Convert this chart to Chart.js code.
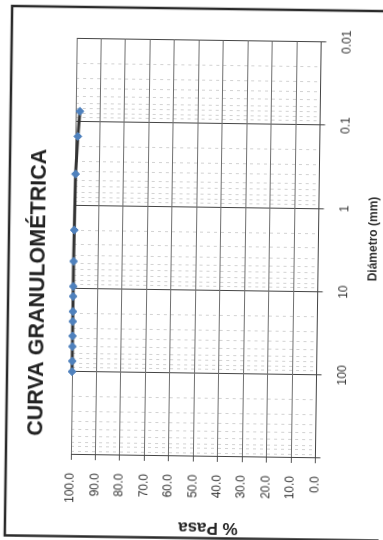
<!DOCTYPE html>
<html>
<head>
<meta charset="utf-8">
<script src="https://cdn.jsdelivr.net/npm/chart.js@4/dist/chart.umd.min.js"></script>
<style>
  html, body { margin: 0; padding: 0; background: #fff; overflow: hidden; }
  body { width: 383px; height: 540px; position: relative; }
  #wrap {
    position: absolute;
    left: -79px;
    top: 78px;
    width: 540px;
    height: 383px;
    transform: rotate(-89.2deg);
    transform-origin: 50% 50%;
  }
</style>
</head>
<body>
<div id="wrap"><canvas id="curva" width="540" height="383"></canvas></div>
<script>
// Sieve diameters (mm) and % passing
const diametros = [100, 75, 50, 37.5, 25, 19, 12.5, 9.5, 4.75, 2.0, 0.425, 0.15, 0.075];
const pasa = [100, 100, 100, 100, 100, 100, 100, 100, 100, 99.9, 99.7, 99.0, 98.3];

// Axis tick labels
const etiquetasDiametro = [0.01, 0.1, 1, 10, 100];
const etiquetasPasa = [0, 10, 20, 30, 40, 50, 60, 70, 80, 90, 100];

const FONT = "'Liberation Sans', Arial, sans-serif";

// decades 0.01 .. 1000 with minor steps
function logTicks() {
  const out = [];
  for (let e = -2; e <= 2; e++) {
    for (let m = 1; m <= 9; m++) out.push({ value: +(m * Math.pow(10, e)).toPrecision(3) });
  }
  out.push({ value: 1000 });
  return out;
}
function esMayor(v) {
  return Math.abs(Math.log10(v) - Math.round(Math.log10(v))) < 1e-6;
}

// frame around the sheet, title and axis titles (placed like the scan)
const marco = {
  id: "marco",
  beforeDraw(chart) {
    const ctx = chart.ctx;
    ctx.save();
    ctx.strokeStyle = "#2a2a2a";
    ctx.lineWidth = 2.5;
    ctx.strokeRect(1.5, 9, 529.5, 400);
    ctx.restore();
  },
  afterDraw(chart) {
    const ctx = chart.ctx;
    ctx.save();
    ctx.fillStyle = "#222";
    ctx.textAlign = "center";
    ctx.textBaseline = "middle";
    ctx.font = "bold 21.5px " + FONT;
    ctx.fillText("CURVA GRANULOMÉTRICA", 245, 39);
    ctx.font = "bold 12px " + FONT;
    ctx.fillStyle = "#333";
    ctx.fillText("Diámetro (mm)", 303, 374);
    ctx.font = "bold 17px " + FONT;
    ctx.fillStyle = "#222";
    ctx.translate(12, 212);
    ctx.rotate(-Math.PI / 2);
    ctx.fillText("% Pasa", 0, 0);
    ctx.restore();
  },
};

new Chart(document.getElementById("curva"), {
  type: "line",
  data: {
    datasets: [
      {
        label: "% Pasa",
        data: diametros.map((d, i) => ({ x: d, y: pasa[i] })),
        borderColor: "#333",
        borderWidth: 3,
        pointStyle: "rectRot",
        pointRadius: 4,
        pointBackgroundColor: "#4F81BD",
        pointBorderColor: "#4F81BD",
        pointBorderWidth: 1,
        tension: 0,
        clip: false,
      },
    ],
  },
  plugins: [marco],
  options: {
    responsive: false,
    animation: false,
    layout: { padding: { top: 74, right: 40.5, left: 0, bottom: 0 } },
    plugins: { legend: { display: false }, tooltip: { enabled: false } },
    scales: {
      x: {
        type: "logarithmic",
        reverse: true,
        min: 0.01,
        max: 1000,
        afterBuildTicks: (s) => { s.ticks = logTicks(); },
        afterFit: (s) => { s.height = 64.5; },
        grid: {
          color: (c) => (c.tick && esMayor(c.tick.value) ? "#444" : "#d2d2d2"),
          lineWidth: 1,
          tickLength: 5,
          tickColor: (c) => (c.tick && esMayor(c.tick.value) ? "#444" : "rgba(0,0,0,0)"),
        },
        border: {
          display: true,
          color: "#444",
          width: 1,
          dash: (c) => (c.tick && esMayor(c.tick.value) ? [] : [3, 4]),
        },
        ticks: {
          autoSkip: false,
          maxRotation: 0,
          padding: 14,
          color: "#333",
          font: { family: FONT, size: 12 },
          callback: (v) => {
            const e = etiquetasDiametro.find((t) => Math.abs(t - v) < 1e-9);
            return e === undefined ? "" : String(e);
          },
        },
      },
      y: {
        min: 0,
        max: 100,
        afterBuildTicks: (s) => { s.ticks = etiquetasPasa.map((v) => ({ value: v })); },
        afterFit: (s) => { s.width = 83; },
        grid: { color: "#707070", lineWidth: 1, tickLength: 5, tickColor: "#555" },
        border: { display: true, color: "#444", width: 1 },
        ticks: {
          padding: 13,
          color: "#333",
          font: { family: FONT, size: 12 },
          callback: (v) => Number(v).toFixed(1),
        },
      },
    },
  },
});
</script>
</body>
</html>
